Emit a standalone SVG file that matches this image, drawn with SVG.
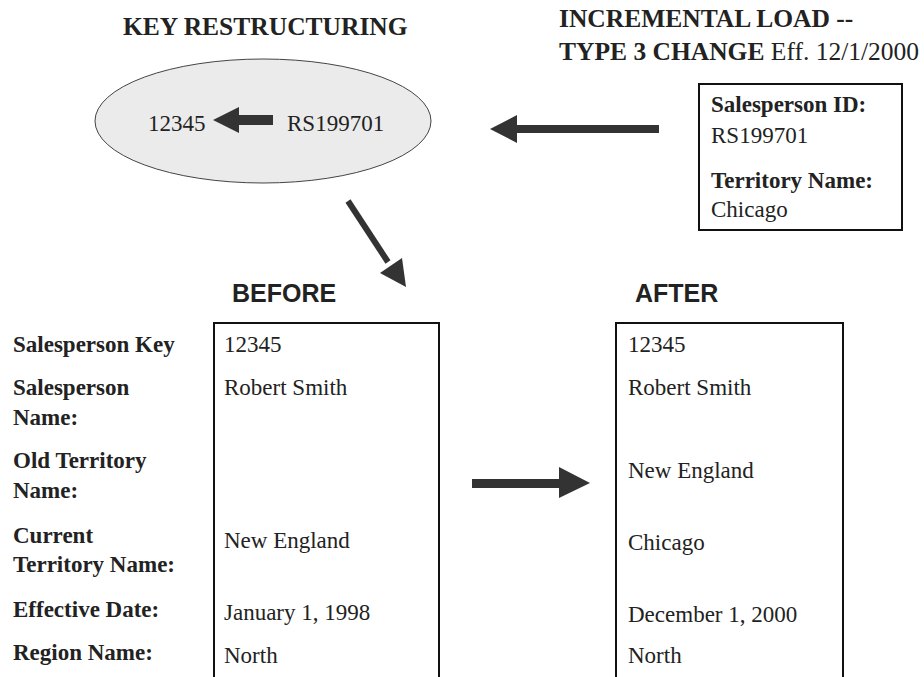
<svg xmlns="http://www.w3.org/2000/svg" width="924" height="677" viewBox="0 0 924 677">
<style>
.s{font-family:"Liberation Serif","Times New Roman",serif;font-size:23px;fill:#222}
.b{font-weight:bold}
.h{font-family:"Liberation Serif","Times New Roman",serif;font-size:25.5px;font-weight:bold;fill:#222}
.hs{font-family:"Liberation Sans",Arial,sans-serif;font-size:25px;font-weight:bold;fill:#222}
.box{fill:#fff;stroke:#111;stroke-width:2}
.arr{fill:#333}
</style>
<rect width="924" height="677" fill="#fff"/>
<g id="title-key">
<text class="h" x="123" y="35">KEY RESTRUCTURING</text>
</g>
<g id="title-incremental">
<text class="h" x="559" y="27">INCREMENTAL LOAD --</text>
<text class="h" x="559" y="60">TYPE 3 CHANGE <tspan font-weight="normal">Eff. 12/1/2000</tspan></text>
</g>
<g id="key-ellipse">
<ellipse cx="263" cy="121" rx="168" ry="62" fill="#ebebeb" stroke="#444" stroke-width="1"/>
<text class="s" x="148" y="131">12345</text>
<polygon class="arr" points="213,120 239,107 239,115 273,115 273,125 239,125 239,133"/>
<text class="s" x="287" y="131">RS199701</text>
</g>
<g id="incoming-box">
<rect class="box" x="699" y="84" width="203" height="146"/>
<text class="s b" x="711" y="112">Salesperson ID:</text>
<text class="s" x="711" y="143">RS199701</text>
<text class="s b" x="711" y="188">Territory Name:</text>
<text class="s" x="711" y="217">Chicago</text>
</g>
<g id="labels">
<text class="s b" x="13" y="352">Salesperson Key</text>
<text class="s b" x="13" y="395">Salesperson</text>
<text class="s b" x="13" y="425">Name:</text>
<text class="s b" x="13" y="468">Old Territory</text>
<text class="s b" x="13" y="498">Name:</text>
<text class="s b" x="13" y="543">Current</text>
<text class="s b" x="13" y="572">Territory Name:</text>
<text class="s b" x="13" y="617">Effective Date:</text>
<text class="s b" x="13" y="660">Region Name:</text>
</g>
<g id="before">
<text class="hs" x="232" y="302">BEFORE</text>
<rect class="box" x="214" y="323" width="225" height="356"/>
<text class="s" x="224" y="352">12345</text>
<text class="s" x="224" y="395">Robert Smith</text>
<text class="s" x="224" y="548">New England</text>
<text class="s" x="224" y="620">January 1, 1998</text>
<text class="s" x="224" y="663">North</text>
</g>
<g id="after">
<text class="hs" x="635" y="302">AFTER</text>
<rect class="box" x="616" y="323" width="227" height="356"/>
<text class="s" x="628" y="352">12345</text>
<text class="s" x="628" y="395">Robert Smith</text>
<text class="s" x="628" y="478">New England</text>
<text class="s" x="628" y="550">Chicago</text>
<text class="s" x="628" y="622">December 1, 2000</text>
<text class="s" x="628" y="663">North</text>
</g>
<g id="connectors">
<polygon class="arr" points="490,129 517,115 517,125 659,125 659,133 517,133 517,143"/>
<polygon class="arr" points="472,479 559,479 559,467 590,483 559,498 559,488 472,488"/>
<line x1="348" y1="201" x2="388" y2="262" stroke="#333" stroke-width="6"/>
<polygon class="arr" points="406,287 380,273 402,258"/>
</g>
</svg>
